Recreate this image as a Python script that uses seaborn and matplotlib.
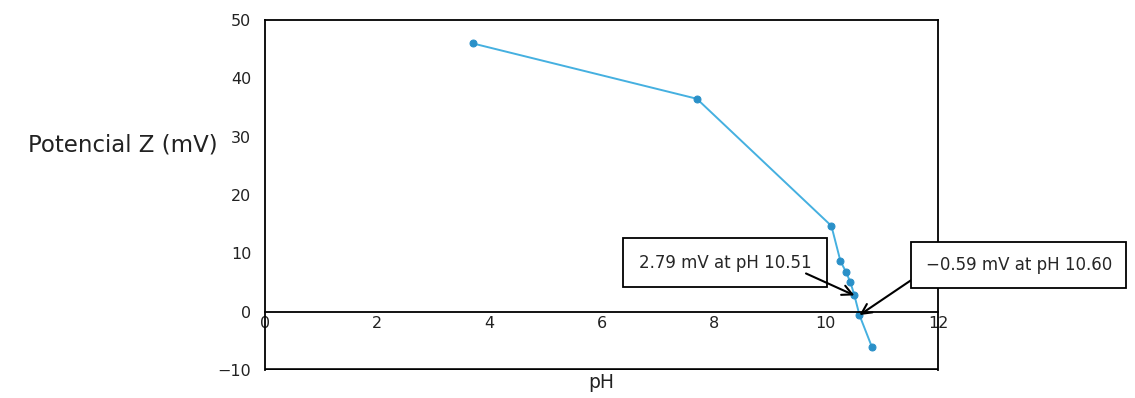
import matplotlib
matplotlib.use("Agg")
import matplotlib.pyplot as plt
import seaborn as sns
import pandas as pd

# zeta potential vs pH
ph = [3.7, 7.7, 10.1, 10.26, 10.36, 10.44, 10.51, 10.60, 10.82]
zeta = [46.0, 36.5, 14.7, 8.7, 6.8, 5.0, 2.79, -0.59, -6.0]

xticks = [0, 2, 4, 6, 8, 10, 12]
yticks = [-10, 0, 10, 20, 30, 40, 50]

notes = ["2.79 mV at pH 10.51", "\u22120.59 mV at pH 10.60"]
note_pts = [(10.51, 2.79), (10.60, -0.59)]

sns.set_style("white")
plt.rcParams['font.family'] = ['DejaVu Sans']

df = pd.DataFrame({"pH": ph, "zeta": zeta})

fig = plt.figure(figsize=(11.35, 3.98), dpi=100)
ax = fig.add_axes([0.2335, 0.0704, 0.5929, 0.8793])

sns.lineplot(data=df, x="pH", y="zeta", sort=False, ax=ax,
             color="#45b0e0", lw=1.4, marker="o", markersize=5,
             markerfacecolor="#2a90c8", markeredgecolor="#2a90c8")

ax.set_xlim(0, 12)
ax.set_ylim(-10, 50)
ax.set_xticks(xticks)
ax.set_yticks(yticks)

# x axis drawn through zero, box closed by a line at the bottom
for s in ax.spines.values():
    s.set_color("black")
    s.set_linewidth(1.3)
ax.spines['bottom'].set_position(('data', 0))
ax.axhline(-10, color="black", lw=2.6, clip_on=True)

ax.tick_params(axis="x", direction="in", length=5, width=1.2,
               pad=3, labelsize=11.5, colors="#222222")
ax.tick_params(axis="y", length=0, pad=10, labelsize=11.5,
               colors="#222222")

ax.set_xlabel("pH", fontsize=13.5, color="#222222")
ax.xaxis.set_label_coords(0.5, -0.01)
ax.set_ylabel("Potencial Z (mV)", fontsize=16.5, rotation=0,
              ha="right", va="center", color="#222222")
ax.yaxis.set_label_coords(-0.07, 0.643)

# annotation boxes with arrows
ax.annotate(notes[0], xy=note_pts[0], xytext=(8.2, 8.4),
            ha="center", va="center", fontsize=12, annotation_clip=False,
            bbox=dict(boxstyle="square,pad=0.95", fc="none", ec="black",
                      lw=1.3),
            arrowprops=dict(arrowstyle="->", color="black", lw=1.5,
                            relpos=(0.97, -0.1), patchA=None, shrinkA=0,
                            shrinkB=0, mutation_scale=18))
ax.annotate(notes[1], xy=note_pts[1], xytext=(13.44, 8.0),
            ha="center", va="center", fontsize=12, annotation_clip=False,
            bbox=dict(boxstyle="square,pad=0.85", fc="white", ec="black",
                      lw=1.3),
            arrowprops=dict(arrowstyle="->", color="black", lw=1.5,
                            relpos=(0.0, 0.2), shrinkA=0, shrinkB=0,
                            mutation_scale=18))

fig.savefig("out.png", dpi=100)
